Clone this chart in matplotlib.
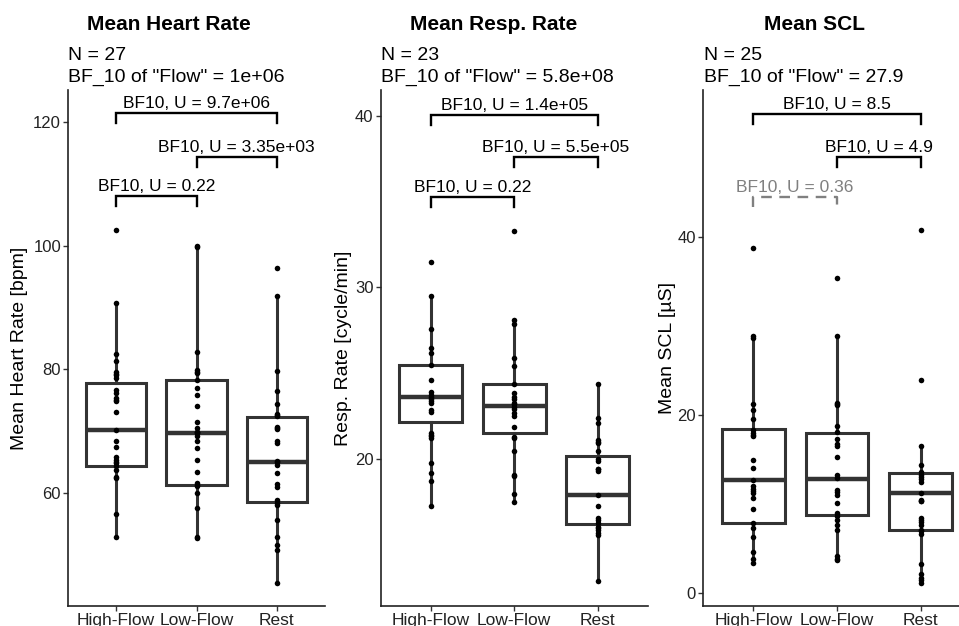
import matplotlib
matplotlib.use('Agg')
import matplotlib.pyplot as plt

plt.rcParams['font.family'] = ['Liberation Sans', 'DejaVu Sans']

W, H = 959, 626

groups = ['High-Flow', 'Low-Flow', 'Rest']

# --- Mean Heart Rate ---
hr_high = [102.6, 90.7, 82.5, 81.4, 79.6, 79.2, 79.0, 78.5, 76.6, 76.1, 75.3, 75.0, 74.8, 73.0,
           70.2, 68.3, 67.4, 65.8, 65.3, 65.0, 64.8, 64.3, 63.7, 62.6, 62.3, 56.5, 52.8]
hr_low = [100.0, 99.8, 82.7, 79.9, 79.6, 79.4, 78.2, 76.9, 75.8, 74.1, 71.4, 70.4, 69.9, 69.8,
          69.6, 69.1, 68.3, 67.2, 65.3, 63.4, 61.5, 61.2, 61.0, 59.9, 57.5, 52.8, 52.6]
hr_rest = [96.4, 91.8, 79.7, 76.5, 74.4, 72.8, 72.6, 72.4, 70.7, 70.5, 70.3, 68.3, 68.0, 65.2,
           65.0, 64.5, 63.2, 61.4, 60.9, 58.8, 58.3, 58.0, 55.5, 52.8, 51.5, 50.7, 45.4]
# q1, median, q3, whisker low, whisker high
hr_box = [(64.3, 70.2, 77.7, 52.8, 90.7), (61.2, 69.6, 78.3, 52.6, 100.0), (58.5, 64.9, 72.3, 45.4, 91.8)]

# --- Mean Resp. Rate ---
rr_high = [31.5, 29.5, 27.6, 26.5, 26.2, 25.5, 24.6, 23.9, 23.75, 23.6, 23.5, 23.4, 23.3, 22.85,
           22.75, 21.5, 21.4, 21.35, 21.25, 19.8, 19.2, 18.75, 17.3]
rr_low = [33.3, 28.1, 27.9, 25.9, 25.4, 24.4, 23.85, 23.6, 23.5, 23.3, 23.2, 23.05, 22.9, 22.7,
          22.5, 21.9, 21.3, 21.25, 20.5, 19.1, 19.0, 18.0, 17.5]
rr_rest = [24.4, 22.4, 22.1, 21.1, 21.0, 20.95, 20.5, 20.0, 19.9, 19.45, 19.4, 19.3, 17.9, 17.3,
           16.6, 16.45, 16.3, 16.05, 16.0, 15.85, 15.7, 15.6, 12.9]
rr_box = [(22.15, 23.6, 25.5, 17.3, 29.5), (21.55, 23.1, 24.35, 17.5, 28.1), (16.25, 17.9, 20.2, 12.9, 24.4)]

# --- Mean SCL ---
scl_high = [38.7, 28.9, 28.6, 21.2, 20.6, 19.5, 18.3, 18.0, 17.8, 17.6, 14.9, 14.1, 12.7, 12.0,
            11.7, 11.5, 11.2, 10.65, 9.5, 7.85, 7.3, 6.3, 4.6, 3.9, 3.4]
scl_low = [35.4, 28.9, 21.3, 21.2, 21.1, 18.8, 18.1, 17.3, 16.8, 16.5, 15.3, 13.3, 12.9, 11.6,
           11.4, 11.0, 10.1, 9.0, 8.7, 8.2, 7.7, 7.1, 4.2, 3.9, 3.7]
scl_rest = [40.7, 23.9, 16.5, 14.4, 13.6, 13.3, 13.0, 12.8, 12.5, 11.2, 10.5, 10.4, 10.3, 8.5,
            8.2, 8.0, 7.7, 7.1, 7.0, 6.7, 3.3, 2.2, 1.7, 1.5, 1.2]
scl_box = [(7.85, 12.7, 18.4, 3.4, 28.9), (8.8, 12.8, 18.0, 3.7, 28.9), (7.1, 11.3, 13.45, 1.2, 16.5)]

# brackets: (group a, group b, y level, label, significant?)
hr_sig = [(1, 2, 108.05, 'BF10, U = 0.22', True), (2, 3, 114.4, 'BF10, U = 3.35e+03', True),
          (1, 3, 121.45, 'BF10, U = 9.7e+06', True)]
rr_sig = [(1, 2, 35.26, 'BF10, U = 0.22', True), (2, 3, 37.62, 'BF10, U = 5.5e+05', True),
          (1, 3, 40.05, 'BF10, U = 1.4e+05', True)]
scl_sig = [(1, 2, 44.48, 'BF10, U = 0.36', False), (2, 3, 48.96, 'BF10, U = 4.9', True),
           (1, 3, 53.75, 'BF10, U = 8.5', True)]

panels = [
    dict(title='Mean Heart Rate', n=27, bf='1e+06', ylabel='Mean Heart Rate [bpm]',
         data=[hr_high, hr_low, hr_rest], box=hr_box, sig=hr_sig,
         ylim=(41.65, 125.2), yticks=[60, 80, 100, 120],
         px=(68, 325), title_x=169, ylab_x=20),
    dict(title='Mean Resp. Rate', n=23, bf='5.8e+08', ylabel='Resp. Rate [cycle/min]',
         data=[rr_high, rr_low, rr_rest], box=rr_box, sig=rr_sig,
         ylim=(11.45, 41.5), yticks=[20, 30, 40],
         px=(380.5, 648), title_x=493.5, ylab_x=343),
    dict(title='Mean SCL', n=25, bf='27.9', ylabel='Mean SCL [µS]',
         data=[scl_high, scl_low, scl_rest], box=scl_box, sig=scl_sig,
         ylim=(-1.42, 56.44), yticks=[0, 20, 40],
         px=(703, 971), title_x=815, ylab_x=667),
]

TOP, BOTTOM = 90, 606
fig = plt.figure(figsize=(W / 100, H / 100), dpi=100)

for p in panels:
    l, r = p['px']
    ax = fig.add_axes([l / W, (H - BOTTOM) / H, (r - l) / W, (BOTTOM - TOP) / H])
    ax.set_xlim(0.4, 3.6)
    ax.set_ylim(*p['ylim'])

    stats = []
    for name, (q1, med, q3, wlo, whi) in zip(groups, p['box']):
        stats.append(dict(label=name, q1=q1, med=med, q3=q3, whislo=wlo, whishi=whi, fliers=[]))
    ax.bxp(stats, positions=[1, 2, 3], widths=0.75, showcaps=False, patch_artist=True,
           boxprops=dict(facecolor='white', edgecolor='#333333', linewidth=2.2),
           whiskerprops=dict(color='#333333', linewidth=2.2),
           medianprops=dict(color='#333333', linewidth=3.2, solid_capstyle='butt'))

    for i, vals in enumerate(p['data']):
        ax.plot([i + 1] * len(vals), vals, 'o', color='black', ms=4.0, mec='none', zorder=5)

    # tip length of 10 px in data units
    tip = 10 * (p['ylim'][1] - p['ylim'][0]) / (BOTTOM - TOP)
    for a, b, y, label, ok in p['sig']:
        col = 'black' if ok else '#808080'
        ls = '-' if ok else (0, (4.5, 3.2))
        ax.plot([a, a, b, b], [y - tip, y, y, y - tip], color=col, lw=1.7, ls=ls,
                solid_joinstyle='miter', clip_on=False, zorder=6)
        ax.annotate(label, xy=((a + b) / 2, y), xytext=(0, 3.5), textcoords='offset points',
                    ha='center', va='baseline', fontsize=12.5, color=col)

    ax.set_xticks([1, 2, 3])
    ax.set_xticklabels(groups, fontsize=12.5, color='#222222')
    ax.set_yticks(p['yticks'])
    ax.set_yticklabels([str(t) for t in p['yticks']], fontsize=12, color='#222222')
    ax.tick_params(length=3.5, width=1, color='#333333', pad=1.5)
    for s in ['top', 'right']:
        ax.spines[s].set_visible(False)
    for s in ['left', 'bottom']:
        ax.spines[s].set_linewidth(1.2)
        ax.spines[s].set_color('#222222')

    fig.text(p['title_x'] / W, 1 - 30 / H, p['title'], ha='center', va='baseline',
             fontsize=15, fontweight='bold')
    fig.text((l + 0.5) / W, 1 - 60 / H, f"N = {p['n']}", ha='left', va='baseline', fontsize=14)
    fig.text((l + 0.5) / W, 1 - 81.5 / H, f'BF_10 of "Flow" = {p["bf"]}', ha='left',
             va='baseline', fontsize=14)
    fig.text(p['ylab_x'] / W, 1 - 348 / H, p['ylabel'], rotation=90, ha='center', va='center',
             fontsize=14)

fig.savefig('out.png', dpi=100)
